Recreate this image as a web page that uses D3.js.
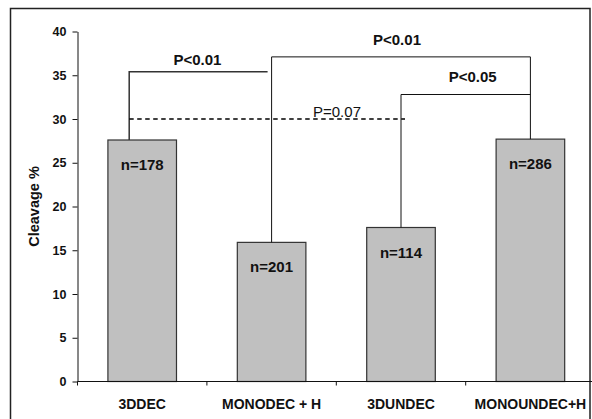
<!DOCTYPE html>
<html>
<head>
<meta charset="utf-8">
<script src="https://cdn.jsdelivr.net/npm/d3@7"></script>
<style>
  html, body { margin: 0; padding: 0; background: #fff; }
  svg { display: block; font-family: "Liberation Sans", Arial, sans-serif; }
</style>
</head>
<body>
<svg id="chart" width="592" height="419"></svg>
<script>
// ---- data ----
const categories = ["3DDEC", "MONODEC + H", "3DUNDEC", "MONOUNDEC+H"];
const cleavage = [27.6, 15.9, 17.6, 27.7];
const counts = ["n=178", "n=201", "n=114", "n=286"];
const yTicks = [0, 5, 10, 15, 20, 25, 30, 35, 40];
const yLabel = "Cleavage %";
// brackets: from category, to category, level (value), label
const bracketFrom = ["3DDEC", "MONODEC + H", "3DUNDEC"];
const bracketTo = ["MONODEC + H", "MONOUNDEC+H", "MONOUNDEC+H"];
const bracketLevel = [35.4, 37.1, 32.8];
const bracketLabel = ["P<0.01", "P<0.01", "P<0.05"];
const dashedLevel = 30.0;
const dashedLabel = "P=0.07";

// ---- layout ----
const svg = d3.select("#chart");
const x = d3.scaleBand().domain(categories).range([77.5, 595.1]).paddingInner(0).paddingOuter(0);
const y = d3.scaleLinear().domain([0, 40]).range([381.5, 31.5]);
const barW = x.bandwidth() * 0.53;
const cx = c => x(c) + x.bandwidth() / 2;

// outer frame
svg.append("rect")
  .attr("x", 10.5).attr("y", 8.5).attr("width", 579.5).attr("height", 420)
  .attr("fill", "none").attr("stroke", "#222").attr("stroke-width", 1.5);

// bars
svg.selectAll("rect.bar").data(categories).join("rect")
  .attr("class", "bar")
  .attr("x", (d) => cx(d) - barW / 2)
  .attr("y", (d, i) => y(cleavage[i]))
  .attr("width", barW)
  .attr("height", (d, i) => y(0) - y(cleavage[i]))
  .attr("fill", "#c0c0c0")
  .attr("stroke", "#333")
  .attr("stroke-width", 1.2);

// count labels
svg.selectAll("text.cnt").data(categories).join("text")
  .attr("class", "cnt")
  .attr("x", d => cx(d))
  .attr("y", (d, i) => y(cleavage[i]) + 30)
  .attr("text-anchor", "middle")
  .attr("font-size", 15).attr("font-weight", "bold").attr("fill", "#111")
  .text((d, i) => counts[i]);

// y axis
const yAxis = svg.append("g").attr("transform", "translate(77.5,0)")
  .call(d3.axisLeft(y).tickValues(yTicks).tickSize(5).tickSizeOuter(0).tickPadding(6));
yAxis.selectAll("text").attr("font-size", 12.5).attr("font-weight", "bold")
  .attr("fill", "#111").attr("font-family", "'Liberation Sans', Arial, sans-serif");
yAxis.selectAll("line,path").attr("stroke", "#111");

// x axis
const xg = svg.append("g").attr("transform", `translate(0,${y(0)})`);
xg.append("line").attr("x1", x.range()[0]).attr("x2", 592).attr("stroke", "#111");
const boundaries = categories.map(c => x(c));
xg.selectAll("line.xt").data(boundaries).join("line")
  .attr("class", "xt").attr("x1", d => d).attr("x2", d => d)
  .attr("y1", 0).attr("y2", 4).attr("stroke", "#111");
xg.selectAll("text").data(categories).join("text")
  .attr("x", d => cx(d)).attr("y", 27)
  .attr("text-anchor", "middle")
  .attr("font-size", 14).attr("font-weight", "bold").attr("fill", "#111")
  .text(d => d);

// y label
svg.append("text")
  .attr("transform", `translate(38.5,${(y(0) + y(40)) / 2}) rotate(-90)`)
  .attr("text-anchor", "middle")
  .attr("font-size", 14.5).attr("font-weight", "bold").attr("fill", "#111")
  .text(yLabel);

// brackets
const ends = [
  [cx(bracketFrom[0]) - 13, cx(bracketTo[0]) - 4, cleavage[0], null],
  [cx(bracketFrom[1]), cx(bracketTo[1]), cleavage[1], cleavage[3]],
  [cx(bracketFrom[2]), cx(bracketTo[2]), cleavage[2], null]
];
const labelShift = [-1, -4, 7];
const labelLift = [7, 11.5, 12.5];
bracketLevel.forEach((lvl, i) => {
  const [x1, x2, v1, v2] = ends[i];
  const pts = [[x1, y(v1)], [x1, y(lvl)], [x2, y(lvl)]];
  if (v2 !== null) pts.push([x2, y(v2)]);
  svg.append("path")
    .attr("d", d3.line()(pts))
    .attr("fill", "none")
    .attr("stroke", i === 0 ? "#333" : "#111")
    .attr("stroke-width", i === 0 ? 1.5 : 1);
  svg.append("text")
    .attr("x", (x1 + x2) / 2 + labelShift[i])
    .attr("y", y(lvl) - labelLift[i])
    .attr("text-anchor", "middle")
    .attr("font-size", 15).attr("font-weight", "bold").attr("fill", "#111")
    .text(bracketLabel[i]);
});

// dashed line
const dx1 = cx(categories[0]) - 13, dx2 = cx(categories[2]) + 4;
svg.append("line")
  .attr("x1", dx1).attr("x2", dx2)
  .attr("y1", y(dashedLevel)).attr("y2", y(dashedLevel))
  .attr("stroke", "#000").attr("stroke-width", 1.4)
  .attr("stroke-dasharray", "4.5,3.5");
svg.append("text")
  .attr("x", 337).attr("y", y(dashedLevel) - 2.5)
  .attr("text-anchor", "middle")
  .attr("font-size", 15).attr("fill", "#111")
  .text(dashedLabel);
</script>
</body>
</html>
